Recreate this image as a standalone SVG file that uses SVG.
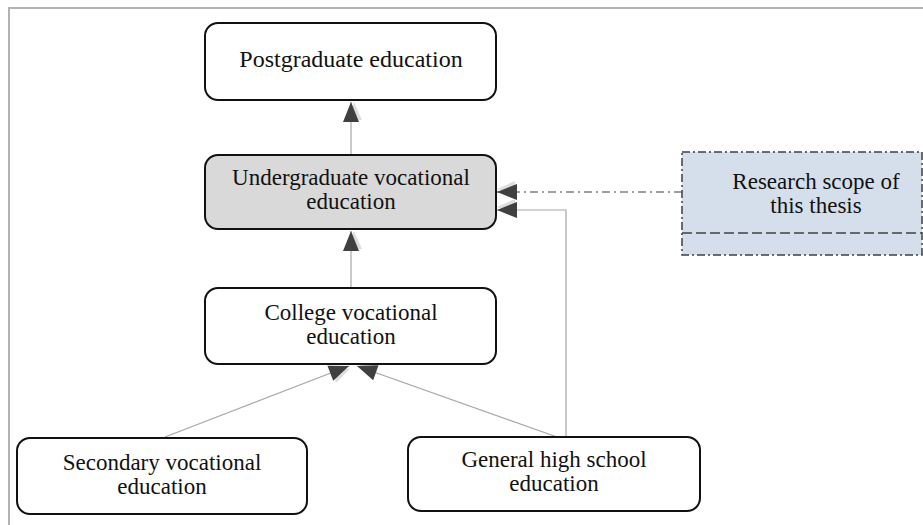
<svg xmlns="http://www.w3.org/2000/svg" width="923" height="525" viewBox="0 0 923 525">
  <defs>
    <style>
      .box { fill: #ffffff; stroke: #111111; stroke-width: 2; }
      .grey { fill: #d9d9d9; }
      .scope { fill: #d5dfeb; stroke: #404040; stroke-width: 1.5; stroke-dasharray: 8 3 2 3; }
      .lbl { font-family: "Liberation Serif", "Times New Roman", serif; font-size: 23px; fill: #111111; text-anchor: middle; }
      .big { font-size: 24px; }
      .conn { fill: none; stroke: #a6a6a6; stroke-width: 1.2; marker-end: url(#arr); }
      .dashdot { fill: none; stroke: #808080; stroke-width: 1.5; stroke-dasharray: 8 4 2 4; marker-end: url(#arr); }
    </style>
    <marker id="arr" markerUnits="userSpaceOnUse" markerWidth="20" markerHeight="18" refX="20" refY="8" orient="auto" overflow="visible">
      <path d="M2,3 L20,11 L2,19 z" fill="#d0d0d0" opacity="0.7"/>
      <path d="M0,0 L20,8 L0,16 z" fill="#404040"/>
    </marker>
  </defs>

  <rect x="0" y="0" width="923" height="525" fill="#ffffff"/>
  <path d="M9,525 L9,8 L923,8" fill="none" stroke="#b3b3b3" stroke-width="2"/>

  <g id="connectors">
    <line class="conn" x1="351" y1="155" x2="351" y2="102"/>
    <line class="conn" x1="351" y1="288" x2="351" y2="231"/>
    <line class="conn" x1="165" y1="437" x2="349" y2="366"/>
    <line class="conn" x1="557" y1="437" x2="357" y2="366"/>
    <polyline class="conn" points="566,437 566,210 497,210"/>
    <line class="dashdot" x1="682" y1="192" x2="497" y2="192"/>
  </g>

  <g id="postgraduate">
    <rect class="box" x="205" y="23" width="291" height="77" rx="13"/>
    <text class="lbl big" x="351" y="67">Postgraduate education</text>
  </g>

  <g id="undergraduate">
    <rect class="box grey" x="205" y="155" width="291" height="74" rx="13"/>
    <text class="lbl" x="351" y="184.5">Undergraduate vocational</text>
    <text class="lbl" x="351" y="208.5">education</text>
  </g>

  <g id="scope">
    <rect class="scope" x="682" y="152" width="240" height="103"/>
    <line x1="682" y1="233" x2="922" y2="233" stroke="#404040" stroke-width="1.5" stroke-dasharray="10 4"/>
    <text class="lbl" x="816" y="189">Research scope of</text>
    <text class="lbl" x="816" y="213">this thesis</text>
  </g>

  <g id="college">
    <rect class="box" x="205" y="288" width="291" height="76" rx="13"/>
    <text class="lbl" x="351" y="319.5">College vocational</text>
    <text class="lbl" x="351" y="343.5">education</text>
  </g>

  <g id="secondary">
    <rect class="box" x="17" y="438" width="290" height="76" rx="13"/>
    <text class="lbl" x="162" y="469.5">Secondary vocational</text>
    <text class="lbl" x="162" y="493.5">education</text>
  </g>

  <g id="general">
    <rect class="box" x="408" y="437" width="292" height="74" rx="13"/>
    <text class="lbl" x="554" y="467">General high school</text>
    <text class="lbl" x="554" y="491">education</text>
  </g>
</svg>
